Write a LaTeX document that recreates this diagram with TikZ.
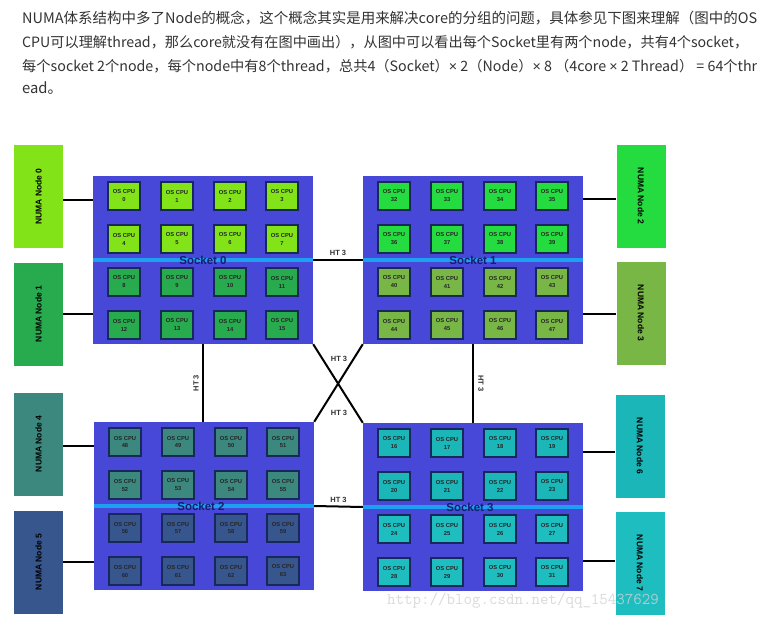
\documentclass[tikz,border=0pt]{standalone}
\usepackage{fontspec}
\setmainfont{Liberation Sans}
\newfontfamily\cjkfont{Noto Sans CJK SC}
\newfontfamily\latinfont{Liberation Sans}
\usetikzlibrary{calc}
\definecolor{txtgray}{RGB}{51,51,51}
\definecolor{sockblue}{RGB}{72,72,216}
\definecolor{stripeblue}{RGB}{30,160,240}
\definecolor{cpuedge}{RGB}{25,40,90}
\definecolor{socklbl}{RGB}{20,30,110}
\definecolor{nA}{RGB}{130,228,24}
\definecolor{nB}{RGB}{40,170,78}
\definecolor{nC}{RGB}{36,220,64}
\definecolor{nD}{RGB}{120,182,70}
\definecolor{nE}{RGB}{60,136,126}
\definecolor{nF}{RGB}{56,86,142}
\definecolor{nG}{RGB}{26,182,184}
\definecolor{nH}{RGB}{30,190,192}
\newcommand\xx{{\latinfont ×}}
\tikzset{
  hdr/.style={anchor=west, inner sep=0pt, text=txtgray, font=\cjkfont\fontsize{14}{16}\selectfont},
  socket/.style={rectangle, fill=sockblue, minimum width=220pt, minimum height=168pt, inner sep=0pt},
  stripe/.style={draw=stripeblue, line width=4pt},
  socklabel/.style={text=socklbl, font=\bfseries\fontsize{11.5}{12}\selectfont, inner sep=0pt},
  cpu/.style={rectangle, draw=cpuedge, line width=1.1pt, minimum width=32pt, minimum height=28pt, inner sep=0pt, align=center, font=\bfseries\fontsize{5.8}{8}\selectfont, text=black!85},
  numa/.style={rectangle, minimum width=49pt, minimum height=103pt, inner sep=0pt, font=\bfseries\fontsize{8.5}{9}\selectfont},
  wire/.style={draw=black, line width=2pt},
  htlink/.style={draw=black, line width=2pt},
  htlbl/.style={font=\bfseries\fontsize{7.5}{8}\selectfont, text=black!80, inner sep=0pt},
  wm/.style={font=\ttfamily\fontsize{16.5}{17}\selectfont, text=white!82!black, opacity=0.8, inner sep=0pt}
}
\begin{document}
\begin{tikzpicture}[x=1pt,y=-1pt]
\useasboundingbox[fill=white] (0,0) rectangle (769,618);
% header text
\node[hdr] (t1) at (22,18) {\resizebox{735pt}{!}{NUMA体系结构中多了Node的概念，这个概念其实是用来解决core的分组的问题，具体参见下图来理解（图中的OS}};
\node[hdr] (t2) at (22,42) {\resizebox{726pt}{!}{CPU可以理解thread，那么core就没有在图中画出），从图中可以看出每个Socket里有两个node，共有4个socket，}};
\node[hdr] (t3) at (22,66) {\resizebox{735pt}{!}{每个socket 2个node，每个node中有8个thread，总共4（Socket）\xx{} 2（Node）\xx{} 8 （4core \xx{} 2 Thread） = 64个thr}};
\node[hdr, font=\cjkfont\fontsize{14.8}{16}\selectfont] (t4) at (22,88) {ead。};
% sockets
\node[socket] (s0) at (203,260) {};
\node[socket] (s1) at (473,260) {};
\node[socket] (s2) at (204,506) {};
\node[socket] (s3) at (473,507) {};
\foreach \s in {s0,s1,s2,s3}{\draw[stripe] (\s.west) -- (\s.east);}
% cpus
\foreach \sk/\first/\ca/\cb in {s0/0/nA/nB, s1/32/nC/nD, s2/48/nE/nF, s3/16/nG/nH}{
  \foreach \dy [count=\r from 0] in {-64,-21,22,65}{
    \foreach \dx [count=\c from 0] in {-79,-26,27,79}{
      \pgfmathtruncatemacro\num{\first+4*\r+\c}
      \ifnum\r<2 \def\cc{\ca}\else\def\cc{\cb}\fi
      \node[cpu, fill=\cc] (cpu\num) at ($(\sk.center)+(\dx,\dy)$) {OS CPU\\\num};
    }
  }
}
\node[socklabel] (l0) at (s0.center) {Socket 0};
\node[socklabel] (l1) at (s1.center) {Socket 1};
\node[socklabel] (l2) at ($(s2.center)+(-3,0)$) {Socket 2};
\node[socklabel] (l3) at ($(s3.center)+(-3,0)$) {Socket 3};
% numa nodes
\node[numa, fill=nA] (n0) at (38.5,196.5) {\rotatebox{90}{NUMA Node 0}};
\node[numa, fill=nB] (n1) at (38.5,314) {\rotatebox{90}{NUMA Node 1}};
\node[numa, fill=nC] (n2) at (641,196) {\rotatebox{-90}{NUMA Node 2}};
\node[numa, fill=nD] (n3) at (641,313) {\rotatebox{-90}{NUMA Node 3}};
\node[numa, fill=nE] (n4) at (38.5,444) {\rotatebox{90}{NUMA Node 4}};
\node[numa, fill=nF] (n5) at (38.5,562) {\rotatebox{90}{NUMA Node 5}};
\node[numa, fill=nG] (n6) at (640,446) {\rotatebox{-90}{NUMA Node 6}};
\node[numa, fill=nH] (n7) at (640,563) {\rotatebox{-90}{NUMA Node 7}};
% numa connectors
\coordinate (a0) at ($(n0.east)+(0,3.5)$);
\coordinate (a1) at (n1.east);
\coordinate (a2) at ($(n2.west)+(0,3)$);
\coordinate (a3) at ($(n3.west)+(0,1)$);
\coordinate (a4) at ($(n4.east)+(0,2)$);
\coordinate (a5) at (n5.east);
\coordinate (a6) at ($(n6.west)+(0,6)$);
\coordinate (a7) at ($(n7.west)+(0,-2)$);
\draw[wire] (a0) -- (a0 -| s0.west);
\draw[wire] (a1) -- (a1 -| s0.west);
\draw[wire] (a2) -- (a2 -| s1.east);
\draw[wire] (a3) -- (a3 -| s1.east);
\draw[wire] (a4) -- (a4 -| s2.west);
\draw[wire] (a5) -- (a5 -| s2.west);
\draw[wire] (a6) -- (a6 -| s3.east);
\draw[wire] (a7) -- (a7 -| s3.east);
% HT links
\draw[htlink] (s0.east) -- node[htlbl, midway, yshift=7.5pt] (h1) {HT 3} (s1.west);
\draw[htlink] (s2.east) -- node[htlbl, midway, yshift=7pt] (h2) {HT 3} (s3.west);
\draw[htlink] (s0.south) -- node[htlbl, midway, xshift=-7pt, rotate=90] (h3) {HT 3} (s0.south |- s2.north);
\draw[htlink] (s1.south) -- node[htlbl, midway, xshift=8pt, rotate=-90] (h4) {HT 3} (s3.north);
\draw[htlink] (s0.south east) -- (s3.north west);
\draw[htlink] (s1.south west) -- (s2.north east);
\coordinate (x0) at ($(s0.south east)!0.5!(s3.north west)$);
\node[htlbl] (h5) at ($(x0)+(1,-25)$) {HT 3};
\node[htlbl] (h6) at ($(x0)+(1,29)$) {HT 3};
% watermark
\node[wm] (wm) at (523,601) {http://blog.csdn.net/qq\_15437629};
\end{tikzpicture}
\end{document}
